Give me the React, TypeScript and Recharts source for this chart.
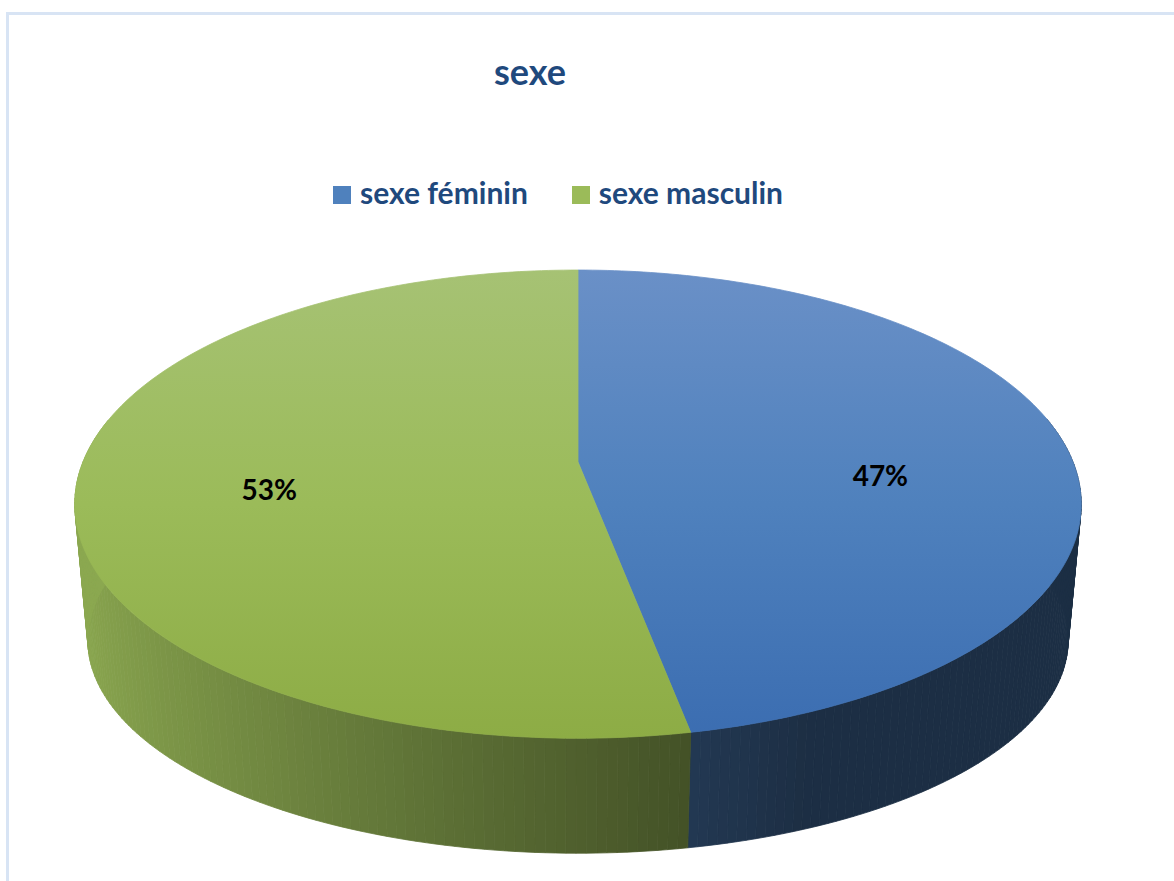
import { PieChart, Pie, Legend } from 'recharts';

const CATEGORIES = ['sexe féminin', 'sexe masculin'];
const SHARES = [47, 53];
const COLORS = ['#4f81bd', '#9bbb59'];
const TOP_LIGHT = ['#6a90c7', '#a6c274'];
const TOP_DARK = ['#3b6db1', '#8dac45'];

const data = CATEGORIES.map((name, i) => ({ name, value: SHARES[i], fill: COLORS[i] }));

// rough perspective used to fake the 3D disc
const K = 0.18;
const TOP_B = 0.4576;
const BOT_A = 0.974;
const BOT_B = 0.416;
const BOT_DY = 0.283;
const RAD = Math.PI / 180;

function proj(cx: number, cy: number, r: number, angle: number, rf = 1, bottom = false) {
  const u = Math.cos(angle * RAD) * rf;
  const v = -Math.sin(angle * RAD) * rf;
  const d = 1 - K * v;
  const a = bottom ? r * BOT_A : r;
  const b = bottom ? r * BOT_B : r * TOP_B;
  const y0 = bottom ? cy + r * BOT_DY : cy;
  return [cx + (a * u) / d, y0 + (b * v) / d];
}

function arcAngles(start: number, end: number) {
  const n = Math.max(2, Math.ceil(Math.abs(end - start)));
  const out: number[] = [];
  for (let i = 0; i <= n; i++) out.push(start + ((end - start) * i) / n);
  return out;
}

function shade(hex: string, f: number) {
  const n = parseInt(hex.slice(1), 16);
  const r = Math.round(((n >> 16) & 255) * f);
  const g = Math.round(((n >> 8) & 255) * f);
  const b = Math.round((n & 255) * f);
  return `rgb(${r},${g},${b})`;
}

const WallSlice = (props: any) => {
  const { cx, cy, outerRadius, startAngle, endAngle, fill } = props;
  const angles = arcAngles(startAngle, endAngle);
  const quads = [];
  for (let i = 0; i < angles.length - 1; i++) {
    const mid = (angles[i] + angles[i + 1]) / 2;
    if (-Math.sin(mid * RAD) < -0.2) continue;
    const t = (Math.cos(mid * RAD) + 1) / 2;
    const col = shade(fill, Math.max(0.36, 0.9 - 0.78 * t));
    const a = proj(cx, cy, outerRadius, angles[i]);
    const b = proj(cx, cy, outerRadius, angles[i + 1]);
    const c = proj(cx, cy, outerRadius, angles[i + 1], 1, true);
    const d = proj(cx, cy, outerRadius, angles[i], 1, true);
    quads.push(
      <path
        key={i}
        d={`M${a[0]},${a[1]}L${b[0]},${b[1]}L${c[0]},${c[1]}L${d[0]},${d[1]}Z`}
        fill={col}
        stroke={col}
        strokeWidth={0.8}
      />
    );
  }
  return <g>{quads}</g>;
};

const TopSlice = (props: any) => {
  const { cx, cy, outerRadius, startAngle, endAngle, payload, name } = props;
  const idx = Math.max(0, CATEGORIES.indexOf(payload?.name ?? name));
  const pts = arcAngles(startAngle, endAngle).map(a => proj(cx, cy, outerRadius, a));
  const d = `M${cx},${cy}` + pts.map(p => `L${p[0]},${p[1]}`).join('') + 'Z';
  const yTop = cy - (outerRadius * TOP_B) / (1 + K);
  const yBot = cy + (outerRadius * TOP_B) / (1 - K);
  const id = `top-grad-${idx}`;
  return (
    <g>
      <defs>
        <linearGradient id={id} gradientUnits="userSpaceOnUse" x1={0} y1={yTop} x2={0} y2={yBot}>
          <stop offset="0%" stopColor={TOP_LIGHT[idx]} />
          <stop offset="50%" stopColor={COLORS[idx]} />
          <stop offset="100%" stopColor={TOP_DARK[idx]} />
        </linearGradient>
      </defs>
      <path d={d} fill={`url(#${id})`} stroke={`url(#${id})`} strokeWidth={0.8} />
    </g>
  );
};

const renderLabel = (props: any) => {
  const { cx, cy, outerRadius, midAngle, percent } = props;
  const [x, y] = proj(cx, cy, outerRadius, midAngle, 0.62);
  return (
    <text
      x={x}
      y={cy + (y - cy) * 0.5 + 31}
      textAnchor="middle"
      fill="#000"
      fontSize={28}
      fontWeight={700}
      fontFamily="Lato, 'Open Sans', sans-serif"
    >
      {`${Math.round(percent * 100)}%`}
    </text>
  );
};

const renderLegend = (props: any) => {
  const seen = new Set<string>();
  const payload = (props.payload ?? []).filter((p: any) => {
    if (seen.has(p.value)) return false;
    seen.add(p.value);
    return true;
  });
  return (
    <div style={{ display: 'flex', gap: 44, whiteSpace: 'nowrap', fontFamily: "Lato, 'Open Sans', sans-serif" }}>
      {payload.map((p: any) => (
        <div key={p.value} style={{ display: 'flex', alignItems: 'center' }}>
          <span
            style={{
              display: 'inline-block',
              width: 18,
              height: 18,
              marginTop: 6,
              marginRight: 9,
              background: p.color,
            }}
          />
          <span style={{ fontSize: 30, lineHeight: '30px', fontWeight: 700, color: '#1f497d' }}>
            {p.value}
          </span>
        </div>
      ))}
    </div>
  );
};

export default function App() {
  return (
    <div
      style={{
        position: 'fixed',
        left: 0,
        top: 0,
        width: 1174,
        height: 881,
        overflow: 'hidden',
        background: '#fff',
      }}
    >
      <div
        style={{
          position: 'absolute',
          left: 6,
          top: 12,
          width: 1180,
          height: 880,
          borderLeft: '3px solid #d8e4f4',
          borderTop: '3px solid #d8e4f4',
        }}
      />
      <div
        style={{
          position: 'absolute',
          left: 430,
          top: 53,
          width: 200,
          textAlign: 'center',
          fontFamily: "Lato, 'Open Sans', sans-serif",
          fontSize: 36,
          lineHeight: '36px',
          fontWeight: 700,
          color: '#1f497d',
        }}
      >
        sexe
      </div>
      <div style={{ position: 'absolute', left: 0, top: 0 }}>
        <PieChart width={1174} height={881} margin={{ top: 0, right: 0, bottom: 0, left: 0 }}>
          <Pie
            data={data}
            dataKey="value"
            nameKey="name"
            cx={578}
            cy={462}
            outerRadius={495}
            startAngle={90}
            endAngle={-270}
            shape={WallSlice}
            legendType="none"
            isAnimationActive={false}
          />
          <Pie
            data={data}
            dataKey="value"
            nameKey="name"
            cx={578}
            cy={462}
            outerRadius={495}
            startAngle={90}
            endAngle={-270}
            shape={TopSlice}
            label={renderLabel}
            labelLine={false}
            legendType="square"
            isAnimationActive={false}
          />
          <Legend
            content={renderLegend}
            wrapperStyle={{ position: 'absolute', left: 333, top: 177, width: 620 }}
          />
        </PieChart>
      </div>
    </div>
  );
}
